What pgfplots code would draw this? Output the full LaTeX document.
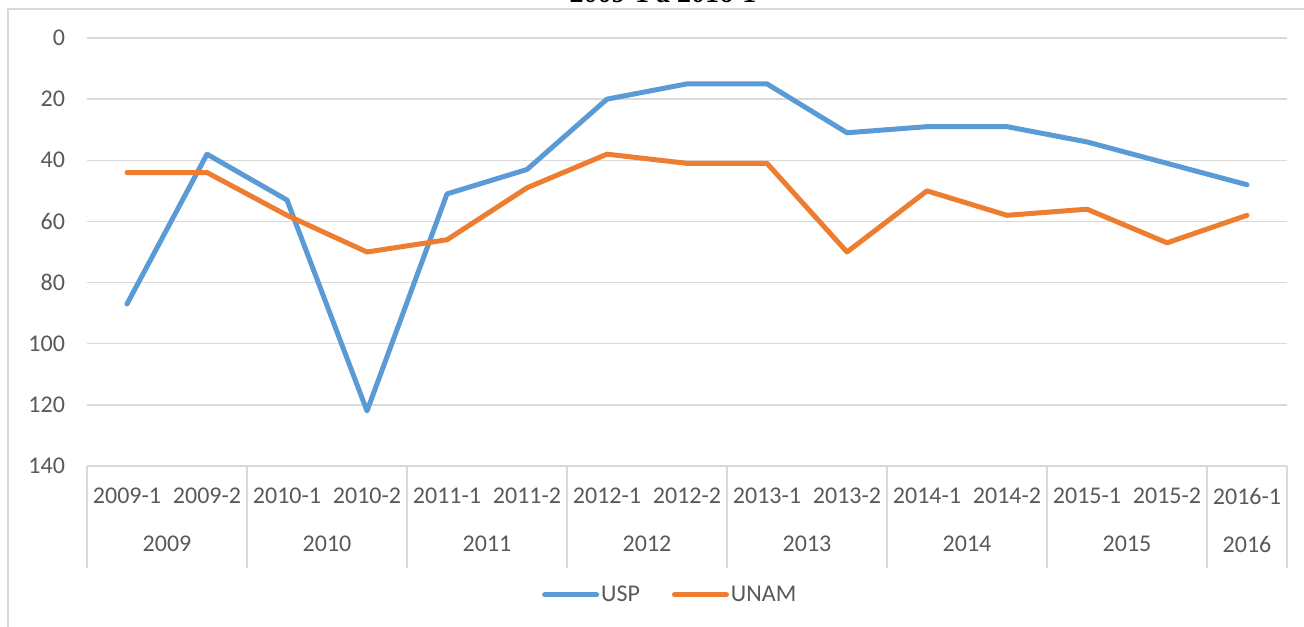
\documentclass[border=0pt]{standalone}
\usepackage{fontspec}
\setmainfont{Carlito}
\newfontfamily\titlefont{Liberation Serif}
\usepackage{pgfplots}
\pgfplotsset{compat=1.18}
\definecolor{uspblue}{HTML}{5B9BD5}
\definecolor{unamorange}{HTML}{ED7D31}
\definecolor{gridgray}{HTML}{D9D9D9}
\definecolor{txtgray}{HTML}{595959}
\begin{document}
\begin{tikzpicture}
\useasboundingbox (0,0) rectangle (652pt,313pt);
\draw[gridgray, line width=0.75pt] (4pt,-2pt) -- (4pt,308.5pt) -- (660pt,308.5pt);
\node[anchor=base, inner sep=0pt, font=\titlefont\bfseries\fontsize{14pt}{16pt}\selectfont, text=black] at (331.5pt,311.5pt) {2009-1 a 2016-1};
\begin{axis}[
  at={(43.5pt,80pt)}, anchor=south west,
  scale only axis, width=600pt, height=214pt,
  xmin=-0.5, xmax=14.5, ymin=0, ymax=140, y dir=reverse,
  ytick={0,20,...,140}, xtick={0,...,14},
  xticklabels={2009-1,2009-2,2010-1,2010-2,2011-1,2011-2,2012-1,2012-2,2013-1,2013-2,2014-1,2014-2,2015-1,2015-2,2016-1},
  axis line style={draw=none},
  major tick length=0pt,
  ymajorgrids, grid style={gridgray, line width=0.75pt},
  /pgf/number format/assume math mode=true,
  tick label style={font=\fontsize{12pt}{14pt}\selectfont, text=txtgray},
  yticklabel style={anchor=east, xshift=-7.5pt},
  xticklabel style={anchor=center, yshift=-15pt},
  clip=false,
  legend columns=2,
  legend style={at={(0.486,-0.301)}, anchor=center, draw=none, fill=none,
    font=\fontsize{12pt}{14pt}\selectfont, text=txtgray,
    nodes={inner xsep=1pt},
    /tikz/every even column/.append style={column sep=15pt},
    /tikz/every odd column/.append style={column sep=0pt}},
  legend image code/.code={\draw[#1] (0pt,0pt) -- (26pt,0pt);},
]
\addplot[uspblue, line width=2.5pt, line join=round, line cap=round] coordinates {
(0,87) (1,38) (2,53) (3,122) (4,51) (5,43) (6,20) (7,15) (8,15) (9,31) (10,29) (11,29) (12,34) (13,41) (14,48)};
\addlegendentry{USP}
\addplot[unamorange, line width=2.5pt, line join=round, line cap=round] coordinates {
(0,44) (1,44) (2,58) (3,70) (4,66) (5,49) (6,38) (7,41) (8,41) (9,70) (10,50) (11,58) (12,56) (13,67) (14,58)};
\addlegendentry{UNAM}
\draw[gridgray, line width=0.75pt] (axis cs:-0.5,140) -- (axis cs:-0.5,173.4);
\draw[gridgray, line width=0.75pt] (axis cs:1.5,140) -- (axis cs:1.5,173.4);
\draw[gridgray, line width=0.75pt] (axis cs:3.5,140) -- (axis cs:3.5,173.4);
\draw[gridgray, line width=0.75pt] (axis cs:5.5,140) -- (axis cs:5.5,173.4);
\draw[gridgray, line width=0.75pt] (axis cs:7.5,140) -- (axis cs:7.5,173.4);
\draw[gridgray, line width=0.75pt] (axis cs:9.5,140) -- (axis cs:9.5,173.4);
\draw[gridgray, line width=0.75pt] (axis cs:11.5,140) -- (axis cs:11.5,173.4);
\draw[gridgray, line width=0.75pt] (axis cs:13.5,140) -- (axis cs:13.5,173.4);
\draw[gridgray, line width=0.75pt] (axis cs:14.5,140) -- (axis cs:14.5,173.4);
\node[font=\fontsize{12pt}{14pt}\selectfont, text=txtgray, yshift=-39pt] at (axis cs:0.5,140) {2009};
\node[font=\fontsize{12pt}{14pt}\selectfont, text=txtgray, yshift=-39pt] at (axis cs:2.5,140) {2010};
\node[font=\fontsize{12pt}{14pt}\selectfont, text=txtgray, yshift=-39pt] at (axis cs:4.5,140) {2011};
\node[font=\fontsize{12pt}{14pt}\selectfont, text=txtgray, yshift=-39pt] at (axis cs:6.5,140) {2012};
\node[font=\fontsize{12pt}{14pt}\selectfont, text=txtgray, yshift=-39pt] at (axis cs:8.5,140) {2013};
\node[font=\fontsize{12pt}{14pt}\selectfont, text=txtgray, yshift=-39pt] at (axis cs:10.5,140) {2014};
\node[font=\fontsize{12pt}{14pt}\selectfont, text=txtgray, yshift=-39pt] at (axis cs:12.5,140) {2015};
\node[font=\fontsize{12pt}{14pt}\selectfont, text=txtgray, yshift=-39pt] at (axis cs:14,140) {2016};
\end{axis}
\end{tikzpicture}
\end{document}
